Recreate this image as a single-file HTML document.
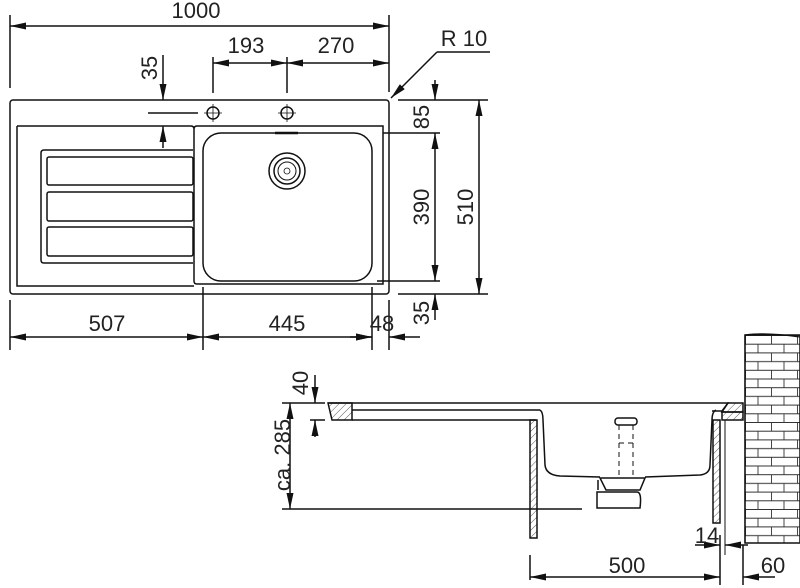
<!DOCTYPE html>
<html><head><meta charset="utf-8"><style>
html,body{margin:0;padding:0;background:#fff}
svg{display:block}
text{font-family:"Liberation Sans",sans-serif;font-size:22px;fill:#222}
</style></head><body>
<svg width="800" height="588" viewBox="0 0 800 588" xmlns="http://www.w3.org/2000/svg">
<defs>
<marker id="a" viewBox="0 0 16 7" refX="16" refY="3.5" markerWidth="16" markerHeight="7" markerUnits="userSpaceOnUse" orient="auto-start-reverse"><path d="M0,0 L16,3.5 L0,7z" fill="#111"/></marker>
<pattern id="h" width="5" height="5" patternUnits="userSpaceOnUse" patternTransform="rotate(45)"><line x1="0" y1="0" x2="0" y2="5" stroke="#333" stroke-width="0.8"/></pattern>
<pattern id="b" x="745" y="335" width="26" height="17.4" patternUnits="userSpaceOnUse"><path d="M0,0.5H26M0,9.2H26M0.5,0V8.7M13,8.7V17.4" stroke="#333" stroke-width="0.9" fill="none"/></pattern>
</defs>
<g stroke="#111" fill="none" stroke-width="1.5">
<rect x="10" y="100" width="379" height="194" rx="3"/>
<path d="M17,126 H191 q3,0 3,3 V281 q0,3 3,3 H383 V126 H197 q-3,0 -3,3"/>
<path d="M17,126 V286 H194"/>
<path d="M193,150 H44 q-3,0 -3,3 V260 q0,3 3,3 H193"/>
<rect x="47" y="157" width="146" height="28" rx="2"/>
<rect x="47" y="192" width="146" height="29" rx="2"/>
<rect x="47" y="227" width="146" height="29" rx="2"/>
<rect x="203" y="133" width="169" height="148" rx="18"/>
<line x1="275" y1="133" x2="298" y2="133" stroke-width="2.5"/>
<circle cx="287" cy="171" r="18"/><circle cx="287" cy="171" r="13"/><circle cx="287" cy="171" r="9" stroke-width="1"/>
<circle cx="287" cy="171" r="3" stroke-width="0.8"/>
<circle cx="213" cy="113" r="6"/><circle cx="287" cy="113" r="6"/>
<path d="M204,113H222M213,104V122M278,113H296M287,104V122" stroke-width="0.8"/>
<path d="M10,15V88M389,15V92M213,57V93M287,57V93"/>
<line x1="10" y1="26" x2="389" y2="26" marker-start="url(#a)" marker-end="url(#a)"/>
<line x1="213" y1="63" x2="287" y2="63" marker-start="url(#a)" marker-end="url(#a)"/>
<line x1="287" y1="63" x2="389" y2="63" marker-start="url(#a)" marker-end="url(#a)"/>
<line x1="163" y1="55" x2="163" y2="100" marker-end="url(#a)"/>
<line x1="163" y1="148" x2="163" y2="126" marker-end="url(#a)"/>
<line x1="148" y1="113" x2="198" y2="113"/>
<line x1="437" y1="52" x2="391" y2="98" marker-end="url(#a)"/><line x1="437" y1="52" x2="490" y2="52"/>
<path d="M398,100H488M383,133H440M377,281H440M398,294H488"/>
<line x1="435" y1="80" x2="435" y2="100" marker-end="url(#a)"/>
<line x1="435" y1="133" x2="435" y2="281" marker-start="url(#a)" marker-end="url(#a)"/>
<line x1="435" y1="320" x2="435" y2="294" marker-end="url(#a)"/>
<line x1="479" y1="100" x2="479" y2="294" marker-start="url(#a)" marker-end="url(#a)"/>
<path d="M10,300V350M203,287V350M372,287V350M389,300V350"/>
<line x1="10" y1="337" x2="203" y2="337" marker-start="url(#a)" marker-end="url(#a)"/>
<line x1="203" y1="337" x2="372" y2="337" marker-start="url(#a)" marker-end="url(#a)"/>
<line x1="350" y1="337" x2="372" y2="337" marker-end="url(#a)"/>
<line x1="420" y1="337" x2="389" y2="337" marker-end="url(#a)"/>
<rect x="745" y="335" width="55" height="208" fill="url(#b)"/>
<path d="M745,335V543M745,335 q20,-3 55,2" stroke-width="1.2"/>
<path d="M328,403H728 l-6,8 H712 M352,410H540"/>
<polygon points="328,403 352,403 352,420 332,420" fill="url(#h)"/>
<line x1="352" y1="420" x2="536" y2="420"/>
<polygon points="722,412 743,412 743,420 722,420" fill="url(#h)"/>
<polygon points="728,403 743,403 743,412 722,412" fill="url(#h)"/>
<rect x="530" y="420" width="7" height="118" fill="url(#h)"/>
<rect x="713" y="420" width="7" height="103" fill="url(#h)"/>
<line x1="725" y1="420" x2="725" y2="555" stroke-width="1"/>
<path d="M540,410 Q543,412 543,420 L545,465 Q546,475 560,476 L600,477 M645,477 L700,475 Q710,474 710,465 L712,420 Q712,412 716,410"/>
<rect x="615" y="418" width="22" height="7" rx="3"/>
<path d="M619,425V478M633,425V478M619,443H633" stroke-dasharray="5,4" stroke-width="1"/>
<path d="M600,478 H645 L640,490 H606z M598,480V490M597,492 H637 Q642,492 640,508 H597z"/>
<path d="M282,403H325M310,420H325M282,509H582"/>
<line x1="315" y1="375" x2="315" y2="403" marker-end="url(#a)"/>
<line x1="315" y1="437" x2="315" y2="420" marker-end="url(#a)"/>
<line x1="290" y1="403" x2="290" y2="509" marker-start="url(#a)" marker-end="url(#a)"/>
<path d="M530,555V580M720,535V585M743,545V585"/>
<line x1="530" y1="577" x2="720" y2="577" marker-start="url(#a)" marker-end="url(#a)"/>
<line x1="775" y1="577" x2="743" y2="577" marker-end="url(#a)"/>
<line x1="695" y1="545" x2="720" y2="545" marker-end="url(#a)"/>
<line x1="748" y1="545" x2="725" y2="545" marker-end="url(#a)"/>
</g>
<g>
<text x="196" y="18" text-anchor="middle">1000</text>
<text x="246" y="53" text-anchor="middle">193</text>
<text x="336" y="53" text-anchor="middle">270</text>
<text x="464" y="46" text-anchor="middle">R 10</text>
<text transform="translate(157,68) rotate(-90)" text-anchor="middle">35</text>
<text transform="translate(429,117) rotate(-90)" text-anchor="middle">85</text>
<text transform="translate(429,207) rotate(-90)" text-anchor="middle">390</text>
<text transform="translate(473,207) rotate(-90)" text-anchor="middle">510</text>
<text transform="translate(429,313) rotate(-90)" text-anchor="middle">35</text>
<text x="107" y="331" text-anchor="middle">507</text>
<text x="287" y="331" text-anchor="middle">445</text>
<text x="382" y="331" text-anchor="middle">48</text>
<text transform="translate(308,383) rotate(-90)" text-anchor="middle">40</text>
<text transform="translate(290,455) rotate(-90)" text-anchor="middle">ca. 285</text>
<text x="627" y="573" text-anchor="middle">500</text>
<text x="773" y="573" text-anchor="middle">60</text>
<text x="707" y="543" text-anchor="middle">14</text>
</g>
</svg>
</body></html>
